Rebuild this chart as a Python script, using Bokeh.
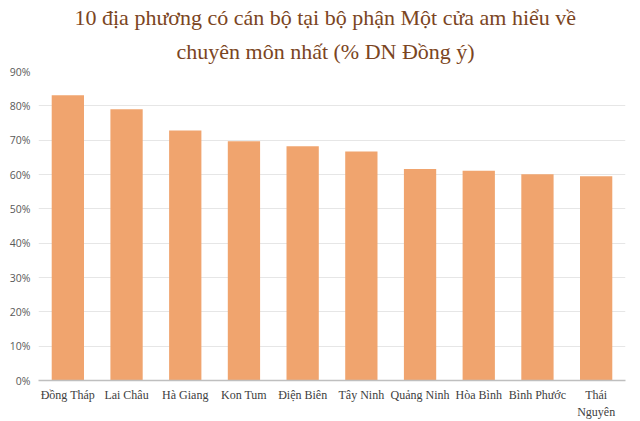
from bokeh.plotting import figure
from bokeh.models import Title, FixedTicker, ColumnDataSource
from bokeh.embed import file_html
from bokeh.resources import INLINE

title_line1 = "10 địa phương có cán bộ tại bộ phận Một cửa am hiểu về"
title_line2 = "chuyên môn nhất (% DN Đồng ý)"

provinces = ["Đồng Tháp", "Lai Châu", "Hà Giang", "Kon Tum", "Điện Biên",
             "Tây Ninh", "Quảng Ninh", "Hòa Bình", "Bình Phước", "Thái Nguyên"]
province_labels = ["Đồng Tháp", "Lai Châu", "Hà Giang", "Kon Tum", "Điện Biên",
                   "Tây Ninh", "Quảng Ninh", "Hòa Bình", "Bình Phước", "Thái\nNguyên"]
values = [83.1, 79.0, 72.8, 69.7, 68.2, 66.7, 61.6, 61.1, 60.1, 59.5]
y_ticks = [0, 10, 20, 30, 40, 50, 60, 70, 80, 90]
y_tick_labels = ["0%", "10%", "20%", "30%", "40%", "50%", "60%", "70%", "80%", "90%"]

x_pos = list(range(len(provinces)))
source = ColumnDataSource(data=dict(x=x_pos, province=provinces, value=values))

p = figure(x_range=(-0.5, len(provinces) - 0.5), y_range=(0, 90),
           frame_width=587, frame_height=309,
           output_backend="svg", toolbar_location=None,
           min_border_left=38, min_border_right=7, min_border_bottom=33,
           min_border_top=71)
p.outline_line_color = None
p.background_fill_color = "white"
p.border_fill_color = "white"

p.vbar(x="x", top="value", width=0.55, source=source,
       fill_color="#F0A46E", line_color=None)

serif = "Liberation Serif"
p.add_layout(Title(text=title_line2, text_font=serif,
                   text_font_size="22px", text_font_style="normal",
                   text_color="#7B4522", align="left", standoff=15,
                   offset=138), "above")
p.add_layout(Title(text=title_line1, text_font=serif,
                   text_font_size="22px", text_font_style="normal",
                   text_color="#7B4522", align="left", standoff=0,
                   offset=36), "above")

p.yaxis.ticker = FixedTicker(ticks=y_ticks)
p.yaxis.major_label_overrides = {t: l for t, l in zip(y_ticks, y_tick_labels)}
p.yaxis.axis_line_color = None
p.yaxis.major_tick_line_color = None
p.yaxis.minor_tick_line_color = None
p.yaxis.major_tick_in = 0
p.yaxis.major_tick_out = 0
p.yaxis.major_label_text_font = "Open Sans"
p.yaxis.major_label_text_font_size = "10.5px"
p.yaxis.major_label_text_color = "#595959"
p.yaxis.major_label_standoff = 8

p.xaxis.ticker = FixedTicker(ticks=x_pos)
p.xaxis.major_label_overrides = {i: l for i, l in zip(x_pos, province_labels)}
p.xaxis.axis_line_color = "#BFBFBF"
p.xaxis.axis_line_width = 1.5
p.xaxis.major_tick_line_color = None
p.xaxis.minor_tick_line_color = None
p.xaxis.major_tick_in = 0
p.xaxis.major_tick_out = 0
p.xaxis.major_label_text_font = serif
p.xaxis.major_label_text_font_size = "12px"
p.xaxis.major_label_text_color = "#404040"
p.xaxis.major_label_text_line_height = 1.25
p.xaxis.major_label_standoff = 7

p.xgrid.grid_line_color = None
p.ygrid.grid_line_color = "#E6E6E6"
p.ygrid.grid_line_width = 1

open("out.html", "w").write(file_html(p, INLINE))
